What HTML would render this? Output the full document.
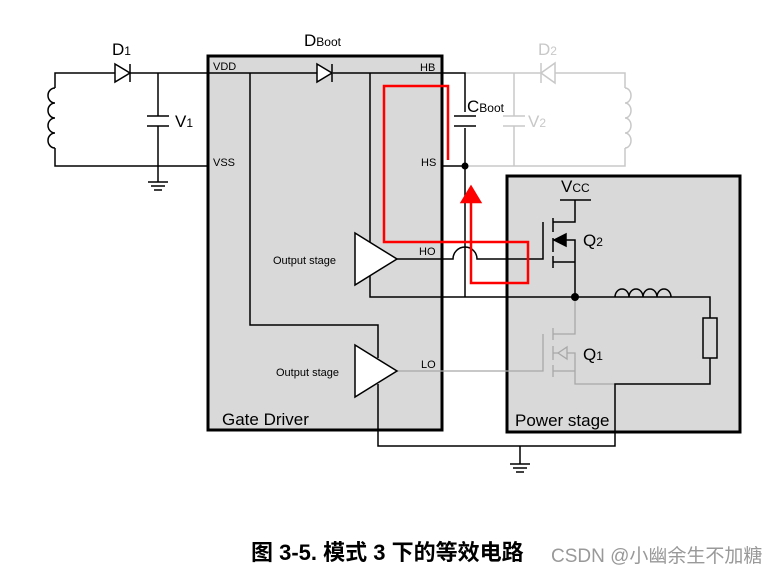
<!DOCTYPE html>
<html><head><meta charset="utf-8"><style>
body{margin:0;background:#fff;width:776px;height:582px;overflow:hidden}
svg{display:block}
text{font-family:"Liberation Sans","Noto Sans CJK SC",sans-serif}
</style></head><body>
<svg width="776" height="582" viewBox="0 0 776 582" fill="none" stroke-linecap="butt">
<rect x="208" y="56" width="234" height="374" fill="#d9d9d9" stroke="#000" stroke-width="3"/>
<rect x="507" y="176" width="233" height="256" fill="#d9d9d9" stroke="#000" stroke-width="3"/>
<g stroke="#c8c8c8" stroke-width="1.5">
<path d="M465 73 H625 V88 M625 148 V166 H465"/>
<path d="M514 73 V116 M514 126 V166"/>
<path d="M503 116 H525 M503 126 H525"/>
<path d="M625 88 a6 7.5 0 0 1 0 15 a6 7.5 0 0 1 0 15 a6 7.5 0 0 1 0 15 a6 7.5 0 0 1 0 15"/>
<path d="M555 63 V83 M555 63 L541 73 L555 83 Z" fill="#fff"/>
<path d="M541 63 V83"/>
</g>
<g stroke="#a8a8a8" stroke-width="1.3">
<path d="M397 371 H543 V334"/>
<path d="M553 328 V340 M553 346 V360 M553 365 V377"/>
<path d="M575 297 V334 H553 M553 353 H575 V384 H615 M553 371 H575"/>
<path d="M558 353 L567 347 V359 Z" fill="#d9d9d9"/>
</g>
<g stroke="#000" stroke-width="1.5">
<path d="M55 88 V73 H115 M130 73 H317 M333 73 H465 V112 M465 128 V297"/>
<path d="M55 148 V166 H208"/>
<path d="M55 88 a7 7.5 0 0 0 0 15 a7 7.5 0 0 0 0 15 a7 7.5 0 0 0 0 15 a7 7.5 0 0 0 0 15"/>
<path d="M115 64 L130 73 L115 82 Z" fill="#fff"/><path d="M130 64 V82"/>
<path d="M317 64 L332 73 L317 82 Z" fill="#fff"/><path d="M332 64 V82"/>
<path d="M158 73 V116 M158 126 V182 M147 116 H169 M147 126 H169"/>
<path d="M148 182 H168 M151 186 H165 M154 190 H162"/>
<path d="M454 116 H476 M454 126 H476"/>
<path d="M442 166 H465"/>
<path d="M250 73 V325 H378 V358"/>
<path d="M370 73 V297 H710 V318 M710 358 V384 H615 V446 H378 V384"/>
<path d="M355 233 L397 259 L355 285 Z" fill="#fff"/>
<path d="M355 345 L397 371 L355 397 Z" fill="#fff"/>
<path d="M397 259 H453 A12 12 0 0 1 477 259 H543 V222"/>
<path d="M553 218 V232 M553 238 V252 M553 256 V268"/>
<path d="M575 200 V222 H553 M553 240 H575 V297 M553 262 H575"/>
<path d="M560 200 H591"/>
<path d="M554 240 L566 234 V246 Z" fill="#000"/>
<path d="M615 297 a7 8 0 0 1 14 0 a7 8 0 0 1 14 0 a7 8 0 0 1 14 0 a7 8 0 0 1 14 0"/>
<rect x="703" y="318" width="14" height="40" fill="#d9d9d9"/>
<path d="M520 446 V464 M510 464 H530 M513 468 H527 M516 472 H524"/>
</g>
<circle cx="465" cy="166" r="3.5" fill="#000"/>
<circle cx="575" cy="297" r="4" fill="#000"/>
<g stroke="#f00" stroke-width="2.5">
<path d="M448 160 V86 H384 V242 H528 V283 H471 V200"/>
<path d="M462 202 L471 187 L480 202 Z" fill="#f00"/>
</g>
<g fill="#000" font-size="11">
<text x="213" y="70">VDD</text>
<text x="420" y="71">HB</text>
<text x="213" y="166">VSS</text>
<text x="421" y="166">HS</text>
<text x="419" y="255">HO</text>
<text x="421" y="368">LO</text>
<text x="273" y="264">Output stage</text>
<text x="276" y="376">Output stage</text>
</g>
<g fill="#000" font-size="17">
<text x="112" y="55">D<tspan font-size="12">1</tspan></text>
<text x="304" y="46">D<tspan font-size="12">Boot</tspan></text>
<text x="175" y="127">V<tspan font-size="12">1</tspan></text>
<text x="467" y="112">C<tspan font-size="12">Boot</tspan></text>
<text x="561" y="192">V<tspan font-size="12">CC</tspan></text>
<text x="583" y="246">Q<tspan font-size="12">2</tspan></text>
<text x="583" y="360">Q<tspan font-size="12">1</tspan></text>
<text x="222" y="425" font-size="17">Gate Driver</text>
<text x="515" y="426" font-size="17">Power stage</text>
</g>
<g fill="#c8c8c8" font-size="17">
<text x="538" y="55">D<tspan font-size="12">2</tspan></text>
<text x="528" y="127">V<tspan font-size="12">2</tspan></text>
</g>
<text x="251" y="560" font-size="22" font-weight="bold" fill="#000">图 3-5. 模式 3 下的等效电路</text>
<text x="551" y="562" font-size="19" fill="#999">CSDN @小幽余生不加糖</text>
</svg>
</body></html>
